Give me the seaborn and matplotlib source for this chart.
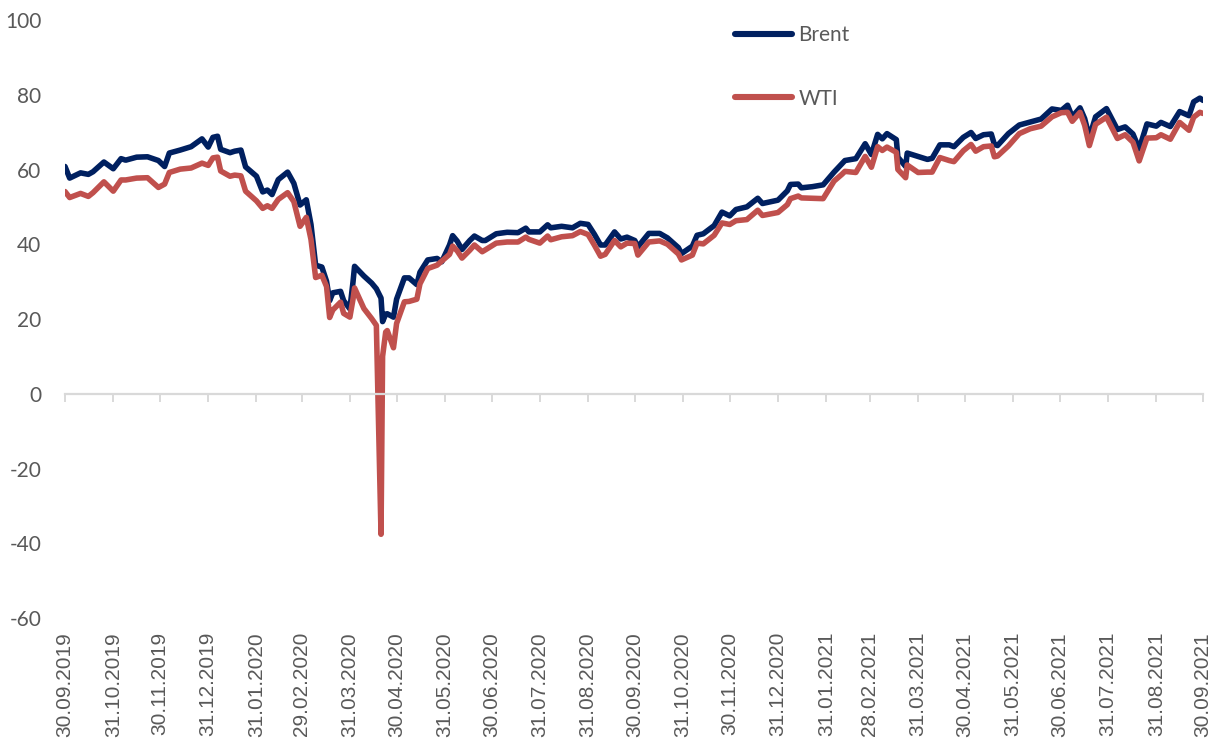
import pandas as pd
import numpy as np
import matplotlib
matplotlib.use("Agg")
import matplotlib.pyplot as plt
import matplotlib.dates as mdates
import seaborn as sns

dates = [
    "2019-09-30", "2019-10-03", "2019-10-10", "2019-10-15", "2019-10-18", "2019-10-25", "2019-10-31",
    "2019-11-05", "2019-11-08", "2019-11-15", "2019-11-22", "2019-11-29", "2019-12-03", "2019-12-06",
    "2019-12-13", "2019-12-20", "2019-12-27", "2019-12-31", "2020-01-03", "2020-01-06", "2020-01-08",
    "2020-01-14", "2020-01-17", "2020-01-21", "2020-01-24", "2020-01-31", "2020-02-04", "2020-02-07",
    "2020-02-10", "2020-02-14", "2020-02-20", "2020-02-24", "2020-02-28", "2020-03-03", "2020-03-06",
    "2020-03-09", "2020-03-13", "2020-03-16", "2020-03-18", "2020-03-20", "2020-03-25", "2020-03-27",
    "2020-03-31", "2020-04-02", "2020-04-03", "2020-04-09", "2020-04-14", "2020-04-17", "2020-04-20",
    "2020-04-21", "2020-04-23", "2020-04-24", "2020-04-28", "2020-04-30", "2020-05-05", "2020-05-08",
    "2020-05-13", "2020-05-15", "2020-05-20", "2020-05-26", "2020-05-29", "2020-06-03", "2020-06-05",
    "2020-06-08", "2020-06-11", "2020-06-16", "2020-06-19", "2020-06-24", "2020-06-26", "2020-07-03",
    "2020-07-10", "2020-07-17", "2020-07-22", "2020-07-24", "2020-07-31", "2020-08-05", "2020-08-07",
    "2020-08-14", "2020-08-21", "2020-08-26", "2020-08-31", "2020-09-04", "2020-09-08", "2020-09-11",
    "2020-09-17", "2020-09-21", "2020-09-25", "2020-09-30", "2020-10-02", "2020-10-09", "2020-10-16",
    "2020-10-21", "2020-10-28", "2020-10-30", "2020-11-06", "2020-11-09", "2020-11-13", "2020-11-20",
    "2020-11-25", "2020-11-30", "2020-12-04", "2020-12-11", "2020-12-18", "2020-12-21", "2020-12-31",
    "2021-01-06", "2021-01-08", "2021-01-13", "2021-01-15", "2021-01-22", "2021-01-29", "2021-02-05",
    "2021-02-10", "2021-02-12", "2021-02-19", "2021-02-25", "2021-03-01", "2021-03-05", "2021-03-08",
    "2021-03-11", "2021-03-17", "2021-03-18", "2021-03-23", "2021-03-24", "2021-03-31", "2021-04-06",
    "2021-04-09", "2021-04-14", "2021-04-20", "2021-04-23", "2021-04-29", "2021-05-04", "2021-05-07",
    "2021-05-12", "2021-05-17", "2021-05-19", "2021-05-21", "2021-05-28", "2021-06-04", "2021-06-11",
    "2021-06-18", "2021-06-25", "2021-07-01", "2021-07-05", "2021-07-08", "2021-07-13", "2021-07-16",
    "2021-07-19", "2021-07-23", "2021-07-30", "2021-08-06", "2021-08-11", "2021-08-16", "2021-08-20",
    "2021-08-25", "2021-08-31", "2021-09-03", "2021-09-09", "2021-09-15", "2021-09-21", "2021-09-24",
    "2021-09-28", "2021-09-30",
]

brent = [
    60.8, 57.7, 59.1, 58.7, 59.4, 62.0, 60.2,
    62.9, 62.5, 63.3, 63.4, 62.4, 60.8, 64.4,
    65.2, 66.1, 68.2, 66.0, 68.6, 68.9, 65.4,
    64.5, 64.9, 65.2, 60.7, 58.2, 54.0, 54.5,
    53.3, 57.3, 59.3, 56.3, 50.5, 51.9, 45.3,
    34.4, 33.9, 30.1, 24.9, 27.0, 27.4, 24.9,
    22.7, 29.9, 34.1, 31.5, 29.6, 28.1, 25.6,
    19.3, 21.3, 21.4, 20.5, 25.3, 31.0, 31.0,
    29.2, 32.5, 35.8, 36.2, 35.3, 39.8, 42.3,
    40.8, 38.6, 41.0, 42.2, 41.0, 41.0, 42.8,
    43.2, 43.1, 44.3, 43.3, 43.3, 45.2, 44.4,
    44.8, 44.4, 45.6, 45.3, 42.7, 39.8, 39.8,
    43.3, 41.4, 41.9, 41.0, 39.3, 42.9, 42.9,
    41.7, 39.1, 37.5, 39.5, 42.4, 42.8, 45.0,
    48.6, 47.6, 49.3, 50.0, 52.3, 50.9, 51.8,
    54.3, 56.0, 56.1, 55.1, 55.4, 55.9, 59.3,
    61.5, 62.4, 62.9, 66.9, 64.0, 69.4, 68.2,
    69.6, 68.0, 63.3, 60.8, 64.4, 63.5, 62.7,
    63.0, 66.6, 66.6, 66.1, 68.6, 69.9, 68.3,
    69.3, 69.5, 66.7, 66.4, 69.6, 71.9, 72.7,
    73.5, 76.2, 75.8, 77.2, 74.1, 76.5, 73.6,
    68.6, 74.1, 76.3, 70.7, 71.4, 69.5, 65.5,
    72.2, 71.6, 72.6, 71.5, 75.5, 74.4, 78.1,
    79.1, 78.5,
]

wti = [
    54.1, 52.5, 53.6, 52.8, 53.8, 56.7, 54.2,
    57.2, 57.2, 57.7, 57.8, 55.2, 56.1, 59.2,
    60.1, 60.4, 61.7, 61.1, 63.1, 63.3, 59.6,
    58.2, 58.5, 58.3, 54.2, 51.6, 49.6, 50.3,
    49.6, 52.0, 53.8, 51.4, 44.8, 47.2, 41.3,
    31.1, 31.7, 28.7, 20.4, 22.4, 24.5, 21.5,
    20.5, 25.3, 28.3, 22.8, 20.1, 18.3, -37.6,
    10.0, 16.5, 16.9, 12.3, 18.8, 24.6, 24.7,
    25.3, 29.4, 33.5, 34.4, 35.5, 37.3, 39.5,
    38.2, 36.3, 38.4, 39.8, 38.0, 38.5, 40.3,
    40.6, 40.6, 41.9, 41.3, 40.3, 42.2, 41.2,
    42.0, 42.3, 43.4, 42.6, 39.8, 36.8, 37.3,
    41.0, 39.3, 40.3, 40.2, 37.1, 40.6, 40.9,
    40.0, 37.4, 35.8, 37.1, 40.3, 40.1, 42.4,
    45.7, 45.3, 46.3, 46.6, 49.1, 47.7, 48.5,
    50.6, 52.2, 52.9, 52.4, 52.3, 52.2, 56.9,
    58.7, 59.5, 59.2, 63.5, 60.6, 66.1, 65.1,
    66.0, 64.6, 60.0, 57.8, 61.2, 59.2, 59.3,
    59.3, 63.2, 62.4, 62.1, 65.0, 66.7, 64.9,
    66.1, 66.3, 63.4, 63.6, 66.3, 69.6, 70.9,
    71.6, 74.1, 75.2, 75.3, 72.9, 75.3, 71.8,
    66.4, 72.1, 74.0, 68.3, 69.3, 67.3, 62.3,
    68.4, 68.5, 69.3, 68.1, 72.6, 70.5, 74.0,
    75.3, 75.0,
]

series_names = ["Brent", "WTI"]
colors = {"Brent": "#002060", "WTI": "#C0504D"}
y_ticks = [-60, -40, -20, 0, 20, 40, 60, 80, 100]

df = pd.DataFrame({
    "date": pd.to_datetime(dates * 2),
    "price": brent + wti,
    "series": ["Brent"] * len(brent) + ["WTI"] * len(wti),
})

sns.set_theme(style="white")
plt.rcParams["font.family"] = ["Lato", "DejaVu Sans"]
plt.rcParams["axes.unicode_minus"] = False

grey = "#595959"
axis_grey = "#D9D9D9"

fig = plt.figure(figsize=(12.29, 7.44), dpi=100)
ax = fig.add_axes([65 / 1229, 1 - 618 / 744, (1203 - 65) / 1229, (618 - 20) / 744])

sns.lineplot(data=df, x="date", y="price", hue="series", hue_order=series_names,
             palette=colors, linewidth=4.0, ax=ax, legend=False)
for line in ax.get_lines():
    line.set_solid_joinstyle("round")
    line.set_solid_capstyle("round")

start = pd.Timestamp("2019-09-30")
end = pd.Timestamp("2021-09-30")
ax.set_xlim(start, end)
ax.set_ylim(-60, 100)
ax.set_yticks(y_ticks)
ax.set_xlabel("")
ax.set_ylabel("")

month_ends = pd.date_range(start, end, freq="ME")
tick_pos = mdates.date2num(month_ends)

# zero line carries the tick marks
for side in ["top", "right", "left"]:
    ax.spines[side].set_visible(False)
ax.spines["bottom"].set_position(("data", 0))
ax.spines["bottom"].set_color(axis_grey)
ax.spines["bottom"].set_linewidth(1.6)
ax.set_xticks(tick_pos)
ax.tick_params(axis="x", direction="out", length=6, width=1.4, color=axis_grey,
               labelbottom=False, bottom=True)
ax.tick_params(axis="y", length=0, pad=17, labelsize=15, labelcolor=grey)

# labels sit at the bottom of the plot area
sec = ax.secondary_xaxis("bottom")
sec.set_xticks(tick_pos)
sec.xaxis.set_major_formatter(mdates.DateFormatter("%d.%m.%Y"))
sec.tick_params(axis="x", length=0, pad=10, labelsize=15, labelcolor=grey, rotation=90)
for lbl in sec.get_xticklabels():
    lbl.set_fontfamily(["Liberation Sans", "DejaVu Sans"])
sec.spines["bottom"].set_visible(False)

handles = [plt.Line2D([], [], color=colors[n], lw=4.4) for n in series_names]
leg = fig.legend(handles, series_names, loc="upper left",
                 bbox_to_anchor=(735 / 1229, 1 - 25 / 744), frameon=False,
                 fontsize=15, labelcolor=grey, handlelength=2.75, handletextpad=0.3,
                 labelspacing=2.1, borderpad=0, borderaxespad=0)

fig.savefig("out.png", dpi=100)
